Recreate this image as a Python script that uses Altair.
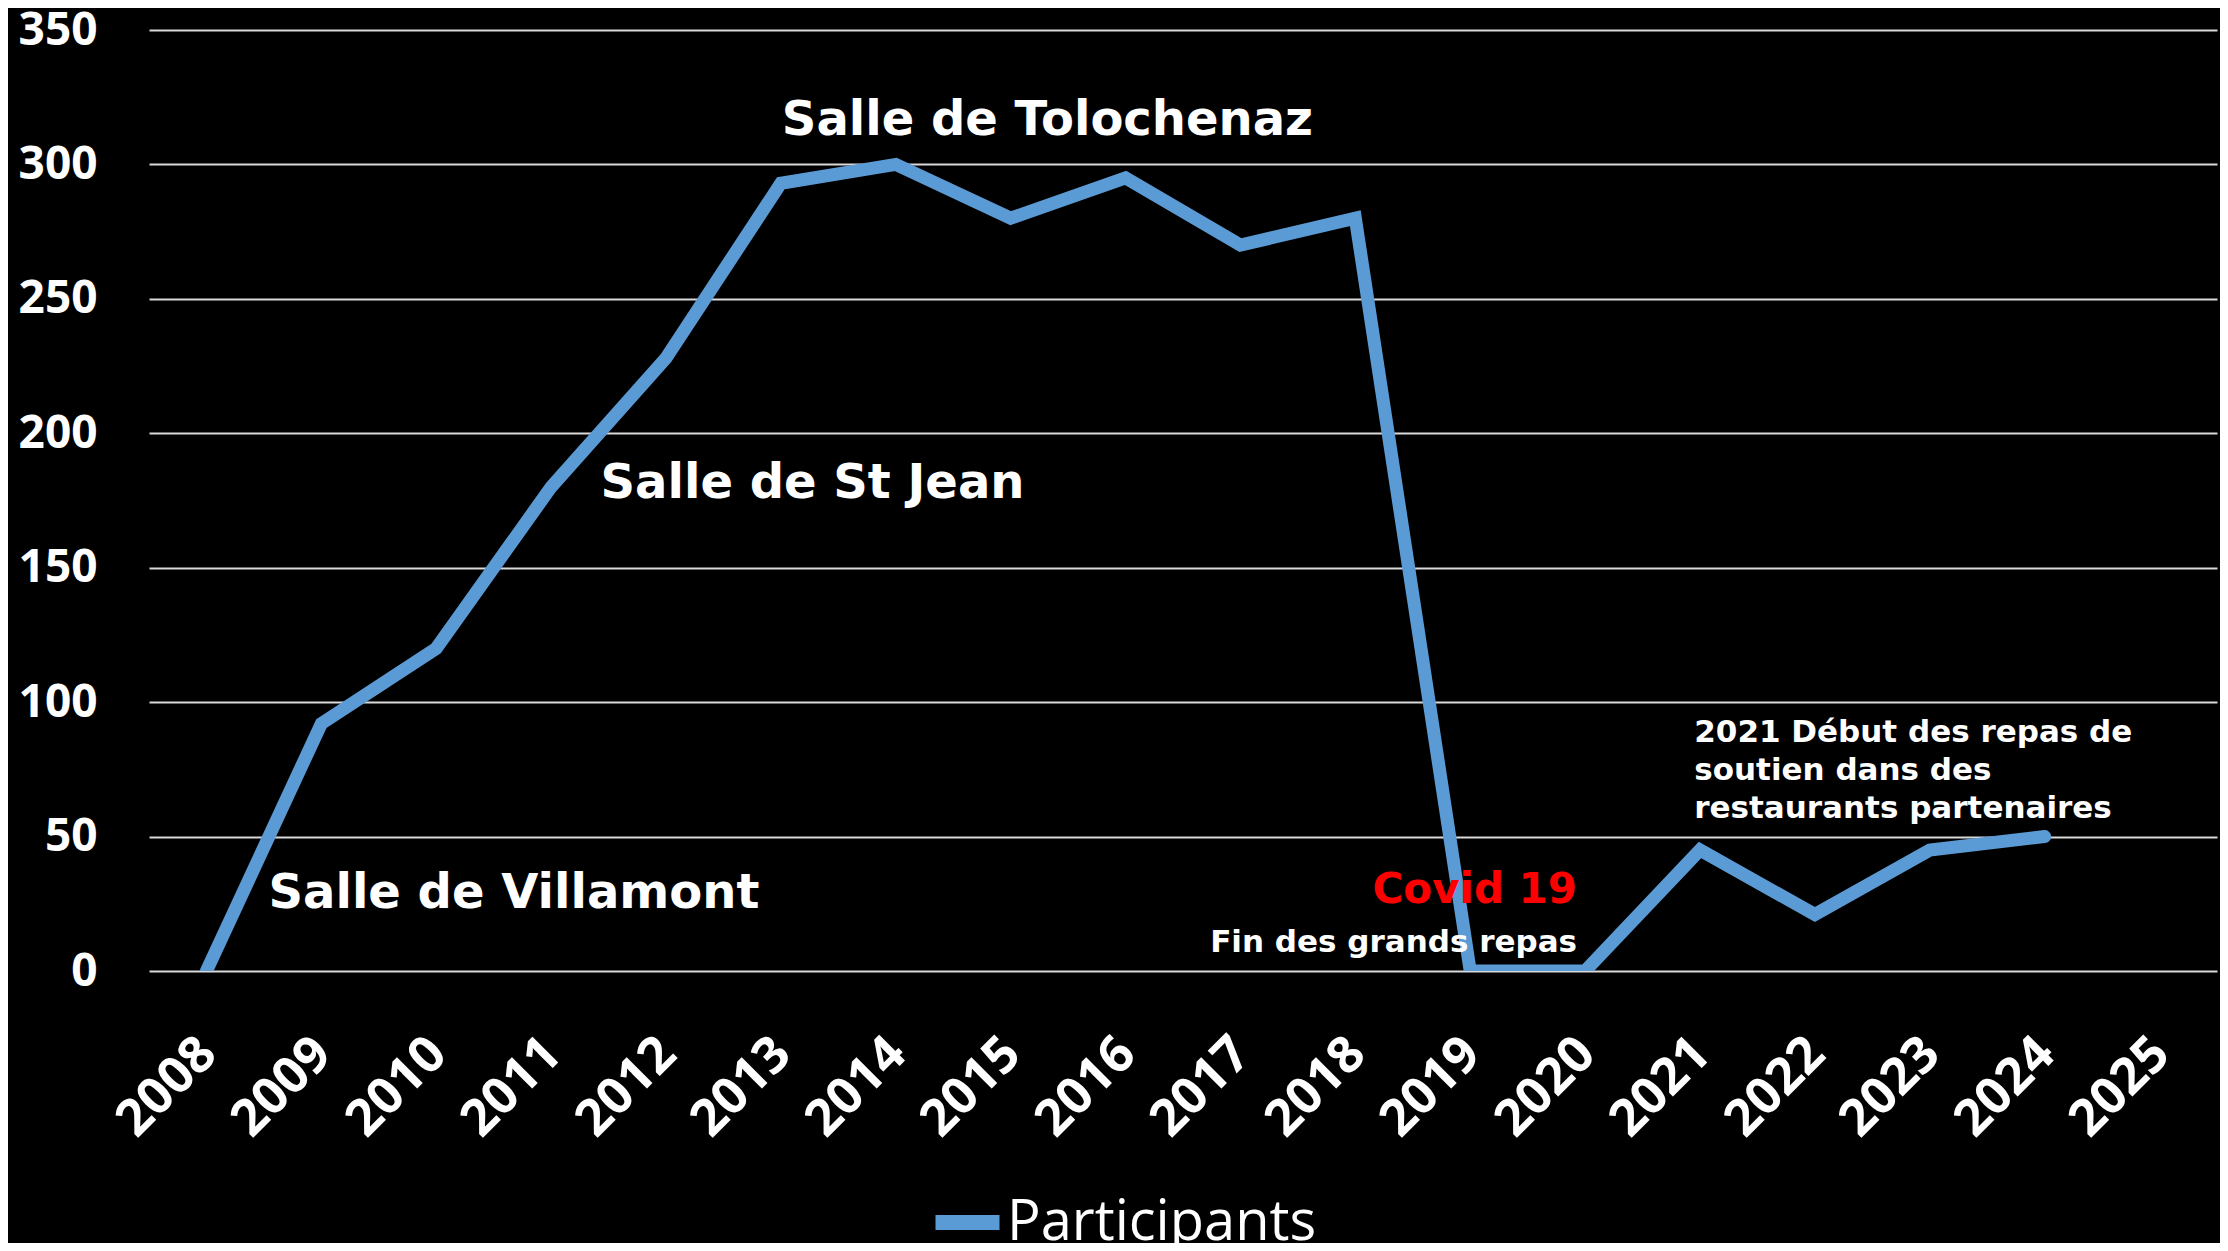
import altair as alt
import pandas as pd

# ---- data ----
years = [2008, 2009, 2010, 2011, 2012, 2013, 2014, 2015, 2016,
         2017, 2018, 2019, 2020, 2021, 2022, 2023, 2024]
participants = [0, 92, 120, 180, 228, 293, 300, 280, 295,
                270, 280, 0, 0, 45, 21, 45, 50]
series_name = "Participants"
tick_years = list(range(2008, 2026))
y_ticks = [0, 50, 100, 150, 200, 250, 300, 350]

# annotations (positions in data units)
ann_text = ["Salle de Tolochenaz", "Salle de St Jean", "Salle de Villamont",
            "Covid 19", "Fin des grands repas",
            "2021 Début des repas de\nsoutien dans des\nrestaurants partenaires"]
ann_x = [2015.32, 2011.43, 2008.54, 2019.93, 2019.93, 2020.95]
ann_y = [311, 176, 23.4, 25.3, 7.1, 85.2]
ann_align = ["center", "left", "left", "right", "right", "left"]
ann_size = [48, 48, 48, 42, 31, 31]
ann_color = ["white", "white", "white", "#FF0000", "white", "white"]

df = pd.DataFrame({"year": years, "value": participants, "series": series_name})

line = alt.Chart(df).mark_line(
    strokeWidth=13, clip=True, strokeCap="round", strokeJoin="miter"
).encode(
    x=alt.X("year:Q",
            scale=alt.Scale(domain=[2007.5, 2025.5], nice=False, zero=False),
            axis=alt.Axis(values=tick_years, format="d", labelAngle=-45,
                          labelAlign="right", labelBaseline="top",
                          labelFont="Open Sans", labelFontWeight="bold",
                          labelFontSize=51, labelColor="white",
                          labelPadding=57, labelOffset=-16,
                          grid=False, ticks=False, domain=False, title=None,
                          labelOverlap=False, labelFlush=False, labelBound=False)),
    y=alt.Y("value:Q",
            scale=alt.Scale(domain=[0, 350], nice=False),
            axis=alt.Axis(values=y_ticks, grid=True, gridColor="#D9D9D9",
                          gridWidth=2, ticks=False, domain=False,
                          labelFont="Open Sans", labelFontWeight="bold",
                          labelFontSize=46, labelColor="white",
                          labelPadding=52, title=None)),
    color=alt.Color("series:N",
                    scale=alt.Scale(domain=[series_name], range=["#5B9BD5"]),
                    legend=alt.Legend(title=None, orient="none",
                                      legendX=779, legendY=1153,
                                      symbolType="stroke", symbolSize=4096,
                                      symbolStrokeWidth=15,
                                      labelFont="Open Sans", labelFontSize=56,
                                      labelColor="white", labelOffset=0,
                                      labelLimit=1000, padding=0))
)

texts = []
for t, xv, yv, al, sz, col in zip(ann_text, ann_x, ann_y, ann_align, ann_size, ann_color):
    d = pd.DataFrame({"x": [xv], "y": [yv], "label": [t]})
    texts.append(
        alt.Chart(d).mark_text(
            align=al, baseline="alphabetic", font="DejaVu Sans",
            fontWeight="bold", fontSize=sz, color=col,
            lineBreak="\n", lineHeight=38
        ).encode(x="x:Q", y="y:Q", text="label:N")
    )

chart = alt.layer(line, *texts).properties(
    width=2068, height=941,
    autosize=alt.AutoSizeParams(type="none"),
    padding={"left": 141, "top": 22, "right": 3, "bottom": 272},
    background="black"
).configure_view(stroke=None)

chart.save("out.html", embed_options={"renderer": "svg", "actions": False})
